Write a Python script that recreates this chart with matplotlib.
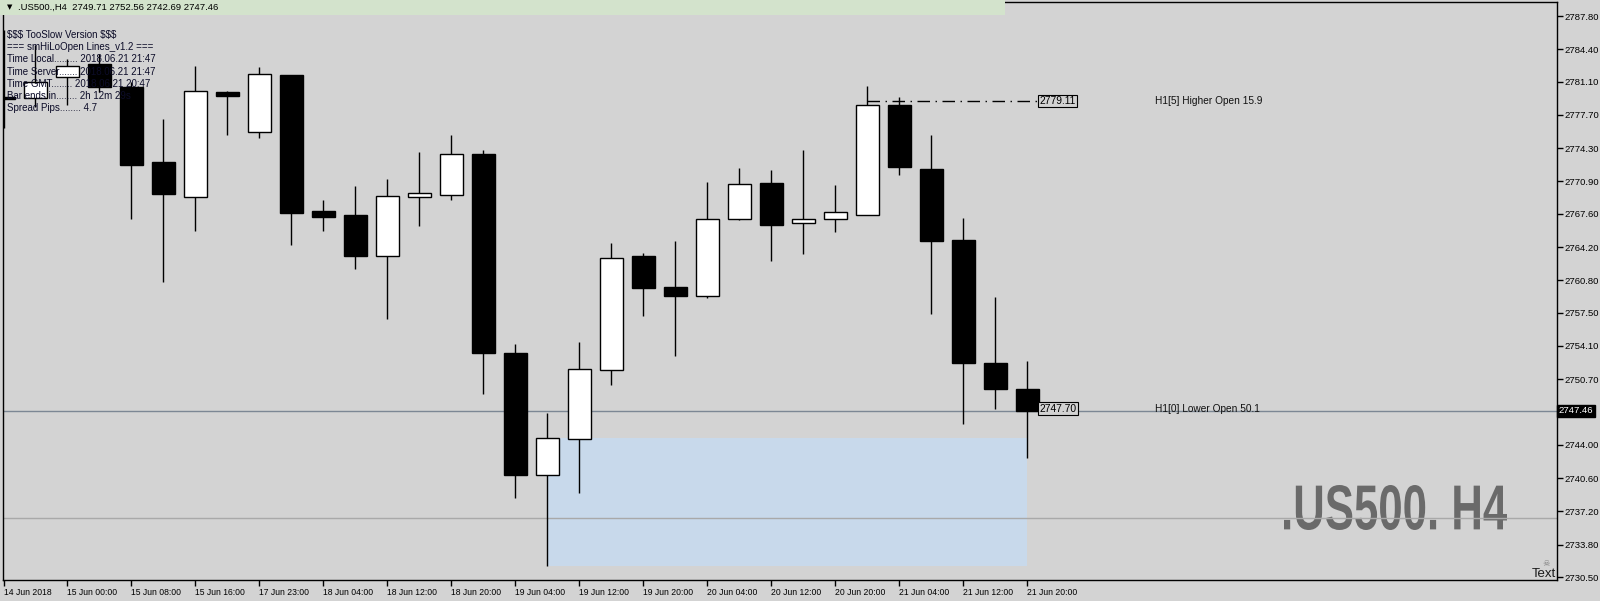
"""Recreate the MT4 .US500 H4 candlestick screenshot."""

import matplotlib.pyplot as plt
import numpy as np
from matplotlib.font_manager import FontProperties
from matplotlib.patches import PathPatch, Rectangle
from matplotlib.textpath import TextPath
from matplotlib.transforms import Affine2D

BG = "#d3d3d3"
W, H = 1600, 601
BAR_PX = 32.0
FIRST_BAR_PX = 3.5

SMALL = ["Liberation Sans", "DejaVu Sans"]

# --- data (H4 bars, oldest first) ---
opens = [2779.50, 2779.43, 2781.60, 2782.89, 2780.60, 2772.90, 2769.34, 2780.01,
         2775.92, 2781.76, 2767.86, 2767.47, 2763.26, 2769.34, 2769.56, 2773.71,
         2753.38, 2740.96, 2744.55, 2751.61, 2763.30, 2760.13, 2759.18, 2767.02,
         2770.75, 2766.64, 2767.02, 2767.52, 2778.70, 2772.16, 2764.91, 2752.36,
         2749.71]
highs = [2786.40, 2784.80, 2783.40, 2783.90, 2781.10, 2777.29, 2782.71, 2780.14,
         2782.60, 2781.80, 2769.00, 2770.44, 2771.14, 2773.92, 2775.64, 2774.12,
         2754.29, 2747.25, 2754.50, 2764.64, 2763.61, 2764.81, 2770.86, 2772.27,
         2772.09, 2774.12, 2770.54, 2780.64, 2779.51, 2775.64, 2767.17, 2759.11,
         2752.56]
lows = [2776.40, 2778.50, 2778.67, 2780.07, 2767.10, 2760.65, 2765.86, 2775.68,
        2775.29, 2764.45, 2765.86, 2762.00, 2756.89, 2766.39, 2769.03, 2749.22,
        2738.60, 2731.64, 2739.13, 2750.14, 2757.21, 2753.09, 2759.04, 2767.00,
        2762.80, 2763.54, 2765.69, 2767.50, 2771.59, 2757.39, 2746.17, 2747.71,
        2742.69]
closes = [2779.30, 2781.06, 2782.74, 2780.50, 2772.61, 2769.66, 2780.11, 2779.65,
          2781.84, 2767.73, 2767.30, 2763.33, 2769.37, 2769.69, 2773.67, 2753.41,
          2740.96, 2744.66, 2751.73, 2763.08, 2760.06, 2759.25, 2767.02, 2770.61,
          2766.50, 2767.02, 2767.76, 2778.67, 2772.41, 2764.84, 2752.39, 2749.75,
          2747.46]

xtick_idx = [0, 2, 4, 6, 8, 10, 12, 14, 16, 18, 20, 22, 24, 26, 28, 30, 32]
xtick_labels = ["14 Jun 2018", "15 Jun 00:00", "15 Jun 08:00", "15 Jun 16:00",
                "17 Jun 23:00", "18 Jun 04:00", "18 Jun 12:00", "18 Jun 20:00",
                "19 Jun 04:00", "19 Jun 12:00", "19 Jun 20:00", "20 Jun 04:00",
                "20 Jun 12:00", "20 Jun 20:00", "21 Jun 04:00", "21 Jun 12:00",
                "21 Jun 20:00"]
ytick_labels = ["2787.80", "2784.40", "2781.10", "2777.70", "2774.30", "2770.90",
                "2767.60", "2764.20", "2760.80", "2757.50", "2754.10", "2750.70",
                "2744.00", "2740.60", "2737.20", "2733.80", "2730.50"]

header = ".US500.,H4  2749.71 2752.56 2742.69 2747.46"
info_lines = [
    "$$$ TooSlow Version $$$",
    "=== smHiLoOpen Lines_v1.2 ===",
    "Time Local......... 2018.06.21 21:47",
    "Time Server....... 2018.06.21 21:47",
    "Time GMT........ 2018.06.21 20:47",
    "Bar ends in........ 2h 12m 29s",
    "Spread Pips........ 4.7",
]

bid = 2747.46
second_level = 2736.50
higher_open = {"start": 27, "price": 2779.11, "text": "H1[5] Higher Open 15.9"}
lower_open = {"price": 2747.70, "text": "H1[0] Lower Open 50.1"}
zone = {"start": 17, "end": 32, "low": 2731.64, "high": 2744.66}


def px_to_bar(px):
    return (px - FIRST_BAR_PX) / BAR_PX


fig = plt.figure(figsize=(W / 100, H / 100), dpi=100, facecolor=BG)
ax = fig.add_axes([3 / W, 21 / H, 1554 / W, 578 / H], facecolor=BG)

x = np.arange(len(opens))
o, hi, lo, c = (np.asarray(v) for v in (opens, highs, lows, closes))
up = c > o

ax.add_patch(Rectangle((zone["start"], zone["low"]), zone["end"] - zone["start"],
                       zone["high"] - zone["low"], facecolor="#c8d9eb",
                       edgecolor="none", zorder=1))
ax.axhline(bid, color="#7c8794", linewidth=1, zorder=2)
ax.axhline(second_level, color="#a9a9a9", linewidth=1, zorder=2)

ax.vlines(x, lo, hi, color="black", linewidth=1, zorder=3)
ax.bar(x, np.maximum(np.abs(c - o), 0.08), bottom=np.minimum(o, c), width=0.74,
       color=np.where(up, "white", "black"), edgecolor="black", linewidth=1,
       zorder=4)

# open levels
label_x = len(opens) - 1 + 0.33
ax.plot([higher_open["start"], label_x], [higher_open["price"]] * 2,
        color="black", linewidth=1, linestyle=(0, (9, 4, 1, 4)), zorder=5)
box = dict(boxstyle="square,pad=0.12", facecolor=BG, edgecolor="black",
           linewidth=0.8)
for price in (higher_open["price"], lower_open["price"]):
    ax.text(label_x + 0.05, price, f"{price:.2f}", ha="left", va="center",
            fontsize=7.4, family=SMALL, color="black", bbox=box, zorder=6)
for item in (higher_open, lower_open):
    ax.text(px_to_bar(1155), item["price"], item["text"], ha="left",
            va="center", fontsize=7.3, family=SMALL, color="#111111", zorder=6)

# watermark, squeezed to the condensed look of the original
fp = FontProperties(family="Liberation Sans", weight="bold")
path = TextPath((0, 0), ".US500. H4", size=100, prop=fp)
bb = path.get_extents()
tr = (Affine2D().translate(-bb.x0, -bb.y0)
      .scale((1507 - 1284) / bb.width, (530 - 485) / bb.height)
      .translate(1284, H - 530))
mark = PathPatch(path, facecolor="#6a6a6a", edgecolor="none", zorder=1.5)
mark.set_transform(tr)
ax.add_artist(mark)

ax.set_xlim(px_to_bar(3), px_to_bar(1557))
ax.set_ylim(2730.20, 2789.23)

ax.set_xticks(xtick_idx, xtick_labels, ha="left")
ax.yaxis.tick_right()
ax.set_yticks([float(v) for v in ytick_labels], ytick_labels)
ax.tick_params(axis="x", direction="out", length=4, pad=1.5, labelsize=6.2,
               colors="black", width=1)
ax.tick_params(axis="y", direction="out", length=4, pad=1.5, labelsize=6.8,
               colors="black", width=1)
for lab in ax.get_xticklabels() + ax.get_yticklabels():
    lab.set_family(SMALL)
for sp in ax.spines.values():
    sp.set_color("black")
    sp.set_linewidth(1)

ax.text(1.0012, bid, f"{bid:.2f}", transform=ax.get_yaxis_transform(),
        ha="left", va="center", fontsize=6.8, family=SMALL, color="white",
        bbox=dict(boxstyle="square,pad=0.18", facecolor="black",
                  edgecolor="black"), clip_on=False, zorder=7)

# header bar and info block
fig.add_artist(Rectangle((0, 1 - 15 / H), 1005 / W, 15 / H,
                         transform=fig.transFigure, facecolor="#d3e3cc",
                         edgecolor="none", zorder=5))
fig.text(9.5 / W, 1 - 7.5 / H, "▼", ha="center", va="center", fontsize=5,
         family=["DejaVu Sans"], color="black", zorder=6)
fig.text(17.5 / W, 1 - 7.5 / H, header, ha="left", va="center", fontsize=6.8,
         family=SMALL, color="black", zorder=6)
for i, line in enumerate(info_lines):
    fig.text(7 / W, 1 - (35 + 12.2 * i) / H, line, ha="left", va="center",
             fontsize=7, family=SMALL, color="#0c0c28", zorder=6,
             parse_math=False)

fig.text(1546 / W, 1 - 564 / H, "☠", ha="center", va="center", fontsize=6,
         family=["DejaVu Sans"], color="#808080", zorder=6)
fig.text(1556.5 / W, 1 - 577 / H, "Text", ha="right", va="baseline",
         fontsize=9.5, family=SMALL, color="#1a1a1a", zorder=6)

fig.savefig("out.png", dpi=100, facecolor=BG)
